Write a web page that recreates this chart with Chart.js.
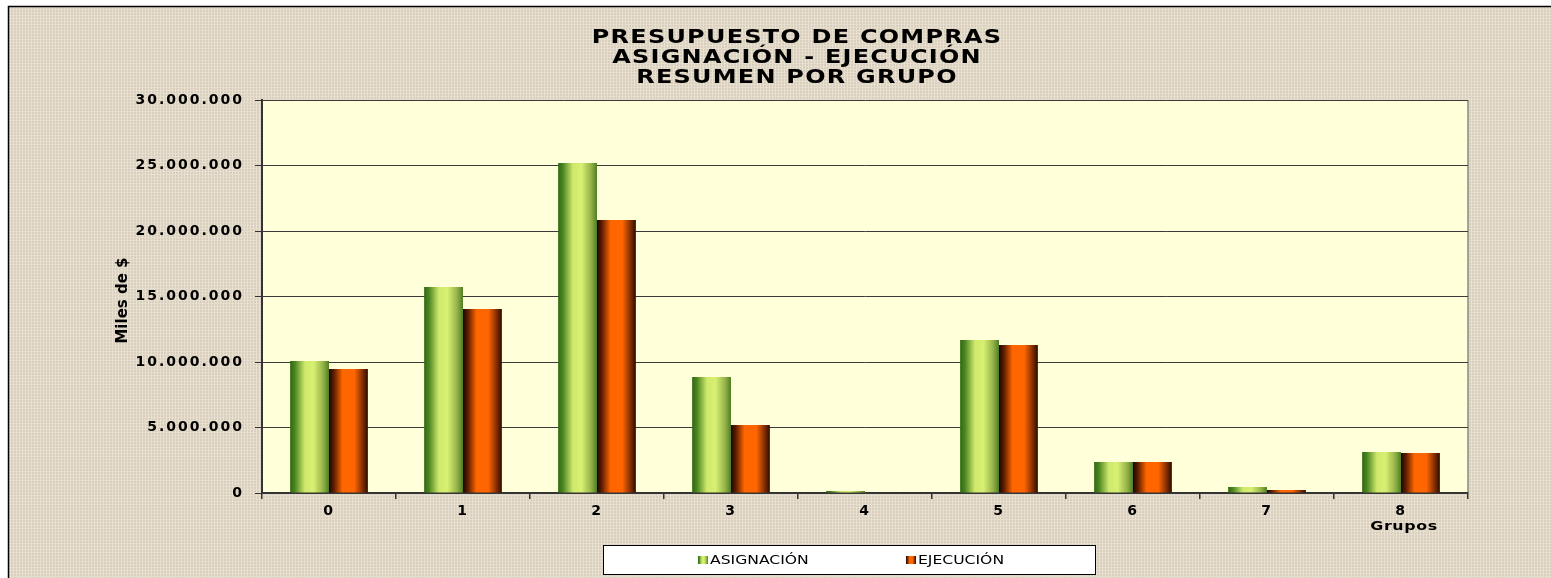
<!DOCTYPE html>
<html>
<head>
<meta charset="utf-8">
<script src="https://cdn.jsdelivr.net/npm/chart.js@4.4.0/dist/chart.umd.min.js"></script>
<style>
    html, body { margin: 0; padding: 0; background: #fff; }
</style>
</head>
<body>
<canvas id="Chart" width="1551" height="578"></canvas>
<script>
// datos
const grupos = ['0', '1', '2', '3', '4', '5', '6', '7', '8'];
const asignacion = [10080000, 15730000, 25190000, 8850000, 150000, 11680000, 2370000, 460000, 3130000];
const ejecucion = [9470000, 14050000, 20840000, 5190000, 30000, 11300000, 2370000, 230000, 3050000];
const tituloLineas = ['PRESUPUESTO DE COMPRAS', 'ASIGNACIÓN - EJECUCIÓN', 'RESUMEN POR GRUPO'];
const tituloY = 'Miles de $';
const tituloX = 'Grupos';
const yMax = 30000000;
const yPaso = 5000000;

const FONT = 'DejaVu Sans';

function formatMiles(v) {
    return String(v).replace(/\B(?=(\d{3})+(?!\d))/g, '.');
}

function gradVerde(ctx, left, width) {
    let g = ctx.createLinearGradient(left, 0, left + width, 0);
    g.addColorStop(0, '#2f6912');
    g.addColorStop(0.12, '#4a8420');
    g.addColorStop(0.38, '#cfe96c');
    g.addColorStop(0.6, '#d8f072');
    g.addColorStop(0.85, '#93b248');
    g.addColorStop(1, '#4f7e24');
    return g;
}

function gradNaranja(ctx, left, width) {
    let g = ctx.createLinearGradient(left, 0, left + width, 0);
    g.addColorStop(0, '#1a0600');
    g.addColorStop(0.12, '#5a1c00');
    g.addColorStop(0.35, '#ff6600');
    g.addColorStop(0.65, '#ff6600');
    g.addColorStop(0.88, '#7a2a00');
    g.addColorStop(1, '#2a0c00');
    return g;
}

let texturaCache = null;
function textura(ctx) {
    if (texturaCache) return texturaCache;
    let c = document.createElement('canvas');
    c.width = 6; c.height = 6;
    let t = c.getContext('2d');
    t.fillStyle = '#d9cfbc';
    t.fillRect(0, 0, 6, 6);
    t.fillStyle = '#e4dccc';
    t.fillRect(0, 0, 6, 1);
    t.fillRect(0, 3, 6, 1);
    t.fillStyle = '#e8e0d0';
    t.fillRect(1, 0, 1, 6);
    t.fillRect(4, 0, 1, 6);
    texturaCache = ctx.createPattern(c, 'repeat');
    return texturaCache;
}

// texto ensanchado horizontalmente, como en la imagen original
function textoAncho(ctx, texto, x, y, sx) {
    ctx.save();
    ctx.translate(x, y);
    ctx.scale(sx, 1);
    ctx.fillText(texto, 0, 0);
    ctx.restore();
}

const fondoPlugin = {
    id: 'fondo',
    beforeLayout(chart) {
        chart.ctx.letterSpacing = '2px';
    },
    beforeDraw(chart) {
        const ctx = chart.ctx;
        const a = chart.chartArea;
        ctx.save();
        ctx.fillStyle = '#fff';
        ctx.fillRect(0, 0, chart.width, chart.height);
        ctx.fillStyle = textura(ctx);
        ctx.fillRect(9, 7, chart.width - 9, chart.height - 7);
        ctx.strokeStyle = '#000';
        ctx.lineWidth = 1.5;
        ctx.strokeRect(8.5, 6.5, chart.width + 5, chart.height + 5);
        ctx.fillStyle = '#ffffd9';
        ctx.fillRect(a.left, a.top, a.right - a.left, a.bottom - a.top);
        ctx.strokeStyle = '#8a8a80';
        ctx.lineWidth = 1.5;
        ctx.beginPath();
        ctx.moveTo(a.right, a.top);
        ctx.lineTo(a.right, a.bottom);
        ctx.stroke();

        // titulo
        ctx.fillStyle = '#000';
        ctx.font = 'bold 19px ' + FONT;
        ctx.letterSpacing = '1px';
        ctx.textAlign = 'center';
        ctx.textBaseline = 'middle';
        tituloLineas.forEach(function (linea, i) {
            textoAncho(ctx, linea, 797, 38 + i * 20, 1.26);
        });

        // titulo eje y
        ctx.letterSpacing = '0px';
        ctx.font = 'bold 15px ' + FONT;
        ctx.save();
        ctx.translate(123, (a.top + a.bottom) / 2 + 4);
        ctx.rotate(-Math.PI / 2);
        ctx.fillText(tituloY, 0, 0);
        ctx.restore();

        ctx.restore();
        ctx.letterSpacing = '2px';
    },
    beforeDatasetsDraw(chart) {
        const ctx = chart.ctx;
        chart.data.datasets.forEach(function (ds, i) {
            const meta = chart.getDatasetMeta(i);
            meta.data.forEach(function (el) {
                const p = el.getProps(['x', 'width'], true);
                const left = p.x - p.width / 2;
                el.options.backgroundColor = i === 0 ? gradVerde(ctx, left, p.width) : gradNaranja(ctx, left, p.width);
            });
        });
    },
    afterDraw(chart) {
        const ctx = chart.ctx;
        const x = chart.scales.x;
        ctx.save();
        // titulo del eje x
        ctx.letterSpacing = '0.5px';
        ctx.fillStyle = '#000';
        ctx.font = 'bold 13px ' + FONT;
        ctx.textAlign = 'center';
        ctx.textBaseline = 'middle';
        textoAncho(ctx, tituloX, x.getPixelForValue(8) + 3, 527, 1.22);

        // leyenda
        ctx.letterSpacing = '0px';
        ctx.fillStyle = '#fff';
        ctx.fillRect(603, 545, 492, 29);
        ctx.strokeStyle = '#000';
        ctx.lineWidth = 1;
        ctx.strokeRect(603.5, 545.5, 492, 29);
        const items = [
            { x: 698, grad: gradVerde },
            { x: 906, grad: gradNaranja }
        ];
        ctx.font = '13px ' + FONT;
        ctx.textAlign = 'left';
        chart.data.datasets.forEach(function (ds, i) {
            const it = items[i];
            ctx.fillStyle = it.grad(ctx, it.x, 10);
            ctx.fillRect(it.x, 556, 10, 8);
            ctx.fillStyle = '#000';
            textoAncho(ctx, ds.label, it.x + 12, 560.5, 1.2);
        });
        ctx.restore();
    }
};

const ctx = document.getElementById('Chart').getContext('2d');
const presupuestoChart = new Chart(ctx, {
    type: 'bar',
    data: {
        labels: grupos,
        datasets: [{
            label: 'ASIGNACIÓN',
            data: asignacion,
            backgroundColor: () => '#c8e060',
            borderWidth: 0
        }, {
            label: 'EJECUCIÓN',
            data: ejecucion,
            backgroundColor: () => '#ff6600',
            borderWidth: 0
        }]
    },
    options: {
        responsive: false,
        animation: false,
        layout: {
            padding: { left: 0, right: 83, top: 100, bottom: 0 }
        },
        datasets: {
            bar: { categoryPercentage: 0.58, barPercentage: 1 }
        },
        plugins: {
            legend: { display: false },
            tooltip: { enabled: false },
            title: { display: false }
        },
        scales: {
            x: {
                grid: {
                    offset: true,
                    drawOnChartArea: false,
                    drawTicks: true,
                    tickLength: 6,
                    tickColor: '#333',
                    lineWidth: 1.5
                },
                border: { color: '#333', width: 1.5 },
                ticks: {
                    color: '#000',
                    padding: 4,
                    font: { family: FONT, size: 14, weight: 'bold' }
                },
                afterFit(scale) { scale.height = 85; }
            },
            y: {
                min: 0,
                max: yMax,
                ticks: {
                    stepSize: yPaso,
                    color: '#000',
                    padding: 11,
                    font: { family: FONT, size: 14, weight: 'bold' },
                    callback: function (v) { return formatMiles(v); }
                },
                grid: {
                    color: '#3a3a3a',
                    lineWidth: 1,
                    tickLength: 7,
                    tickColor: '#333'
                },
                border: { color: '#333', width: 2 },
                afterFit(scale) { scale.width = 262; }
            }
        }
    },
    plugins: [fondoPlugin]
});
</script>
</body>
</html>
